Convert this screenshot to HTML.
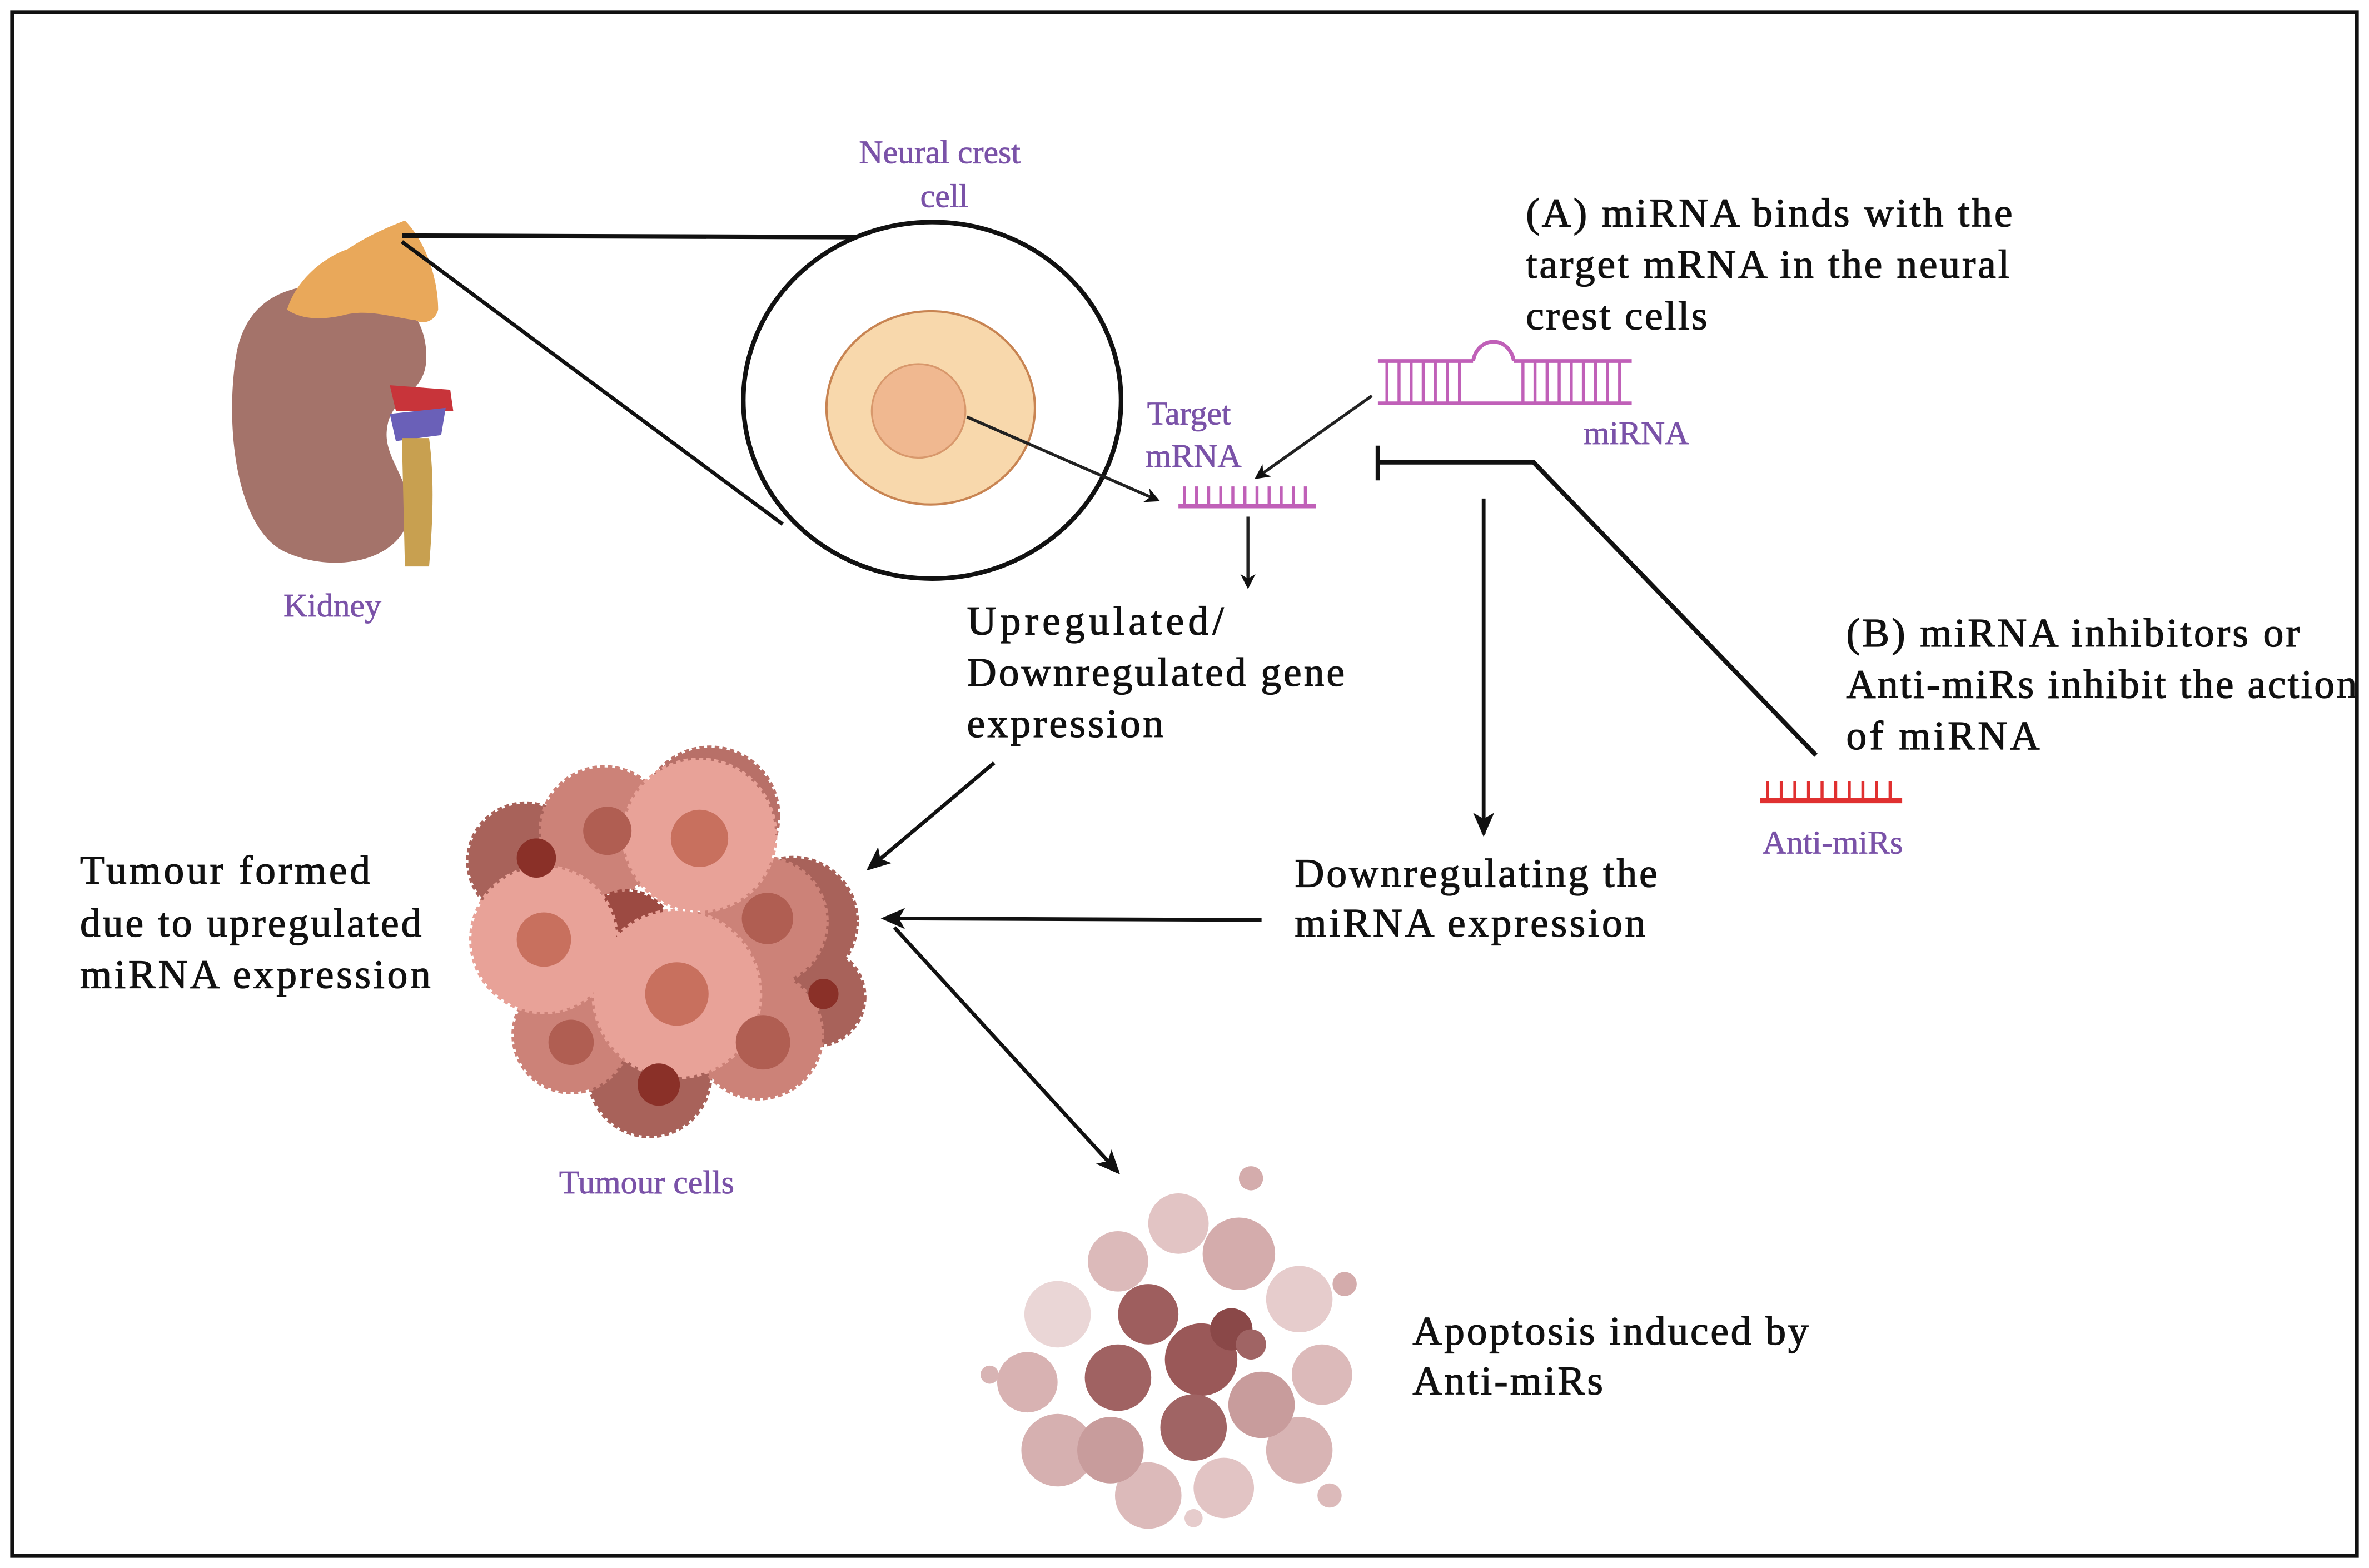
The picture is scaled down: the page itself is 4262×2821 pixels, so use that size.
<!DOCTYPE html>
<html><head><meta charset="utf-8"><style>
html,body{margin:0;padding:0;background:#fff;}
svg{display:block;}
</style></head><body>
<svg width="4262" height="2821" viewBox="0 0 1568 1038" preserveAspectRatio="none" xmlns="http://www.w3.org/2000/svg" font-family="'Liberation Serif','DejaVu Serif',serif">
<defs>
<marker id="ah" markerWidth="10" markerHeight="10" refX="8" refY="5" orient="auto" markerUnits="userSpaceOnUse"><path d="M0,0 L10,5 L0,10 L3,5 Z" fill="#111"/></marker>
<marker id="ah2" markerWidth="16" markerHeight="16" refX="14" refY="8" orient="auto" markerUnits="userSpaceOnUse"><path d="M0,1 L16,8 L0,15 L4,8 Z" fill="#111"/></marker>
</defs>
<style>
.b{font-size:27px;fill:#111;stroke:#111;stroke-width:0.5;}
.p{font-size:22px;fill:#7a52a8;stroke:#7a52a8;stroke-width:0.3;}
</style>
<rect x="0" y="0" width="1568" height="1038" fill="#fff"/>
<rect x="8" y="8" width="1552" height="1022" fill="none" stroke="#111" stroke-width="2.5"/>

<!-- Kidney -->
<path d="M200,190 C240,178 285,195 282,240 C280,262 258,262 256,285 C254,305 275,320 270,345 C262,372 220,380 188,365 C158,350 150,290 155,245 C158,210 175,195 200,190 Z" fill="#a4736a"/>
<path d="M258,255 L298,258 L300,272 L262,272 Z" fill="#c8343a"/>
<path d="M258,274 L295,270 L292,288 L262,292 Z" fill="#6a60b8"/>
<path d="M266,290 L284,290 C288,320 286,350 284,375 L268,375 Z" fill="#c8a050"/>
<path d="M190,205 C196,185 215,170 230,165 C245,155 258,150 268,146 C282,160 290,185 290,205 C288,213 280,215 275,212 C260,210 245,205 230,208 C215,212 200,212 190,205 Z" fill="#e9a85a"/>
<text class="p" x="220" y="408" text-anchor="middle">Kidney</text>

<!-- zoom lines -->
<line x1="266" y1="156" x2="575" y2="157" stroke="#111" stroke-width="3"/>
<line x1="266" y1="160" x2="518" y2="347" stroke="#111" stroke-width="2.5"/>

<!-- neural crest cell -->
<ellipse cx="617" cy="265" rx="125" ry="118" fill="#fff" stroke="#111" stroke-width="3"/>
<ellipse cx="616" cy="270" rx="69" ry="64" fill="#f8d8ac" stroke="#c88452" stroke-width="1.5"/>
<ellipse cx="608" cy="272" rx="31" ry="31" fill="#f0b890" stroke="#d8986c" stroke-width="1.2"/>
<text class="p" x="622" y="108" text-anchor="middle">Neural crest</text>
<text class="p" x="625" y="137" text-anchor="middle">cell</text>
<line x1="640" y1="276" x2="766" y2="331" stroke="#222" stroke-width="2" marker-end="url(#ah)"/>

<!-- target mRNA -->
<text class="p" x="787" y="281" text-anchor="middle">Target</text>
<text class="p" x="790" y="309" text-anchor="middle">mRNA</text>
<g stroke="#c060b8" stroke-width="2">
<line x1="780" y1="335" x2="871" y2="335" stroke-width="3"/>
<path d="M784,322V335M792,322V335M800,322V335M808,322V335M816,322V335M824,322V335M832,322V335M840,322V335M848,322V335M856,322V335M864,322V335"/>
</g>
<line x1="826" y1="342" x2="826" y2="388" stroke="#222" stroke-width="2" marker-end="url(#ah)"/>
<text class="b" x="640" y="420" textLength="170">Upregulated/</text>
<text class="b" x="640" y="454" textLength="250">Downregulated gene</text>
<text class="b" x="640" y="488" textLength="130">expression</text>

<!-- miRNA -->
<g stroke="#c060b8" stroke-width="2.5" fill="none">
<line x1="912" y1="239" x2="975" y2="239"/>
<line x1="1002" y1="239" x2="1080" y2="239"/>
<path d="M975,239 C978,222 999,222 1002,239"/>
<line x1="912" y1="267" x2="1080" y2="267"/>
<path d="M918,239V267M926,239V267M934,239V267M942,239V267M950,239V267M958,239V267M966,239V267M1008,239V267M1016,239V267M1024,239V267M1032,239V267M1040,239V267M1048,239V267M1056,239V267M1064,239V267M1072,239V267" stroke-width="2"/>
</g>
<text class="p" x="1083" y="294" text-anchor="middle">miRNA</text>
<line x1="908" y1="262" x2="832" y2="316" stroke="#222" stroke-width="2" marker-end="url(#ah)"/>

<text class="b" x="1010" y="150" textLength="322">(A) miRNA binds with the</text>
<text class="b" x="1010" y="184" textLength="320">target mRNA in the neural</text>
<text class="b" x="1010" y="218" textLength="120">crest cells</text>

<!-- inhibition -->
<polyline points="912,306 1015,306 1202,500" fill="none" stroke="#111" stroke-width="3"/>
<line x1="912" y1="295" x2="912" y2="318" stroke="#111" stroke-width="3"/>
<text class="b" x="1222" y="428" textLength="300">(B) miRNA inhibitors or</text>
<text class="b" x="1222" y="462" textLength="338">Anti-miRs inhibit the action</text>
<text class="b" x="1222" y="496" textLength="128">of miRNA</text>

<!-- anti-miRs -->
<g stroke="#e03030" stroke-width="2">
<line x1="1165" y1="530" x2="1259" y2="530" stroke-width="3.5"/>
<path d="M1170,517V530M1179,517V530M1188,517V530M1197,517V530M1206,517V530M1215,517V530M1224,517V530M1233,517V530M1242,517V530M1251,517V530"/>
</g>
<text class="p" x="1213" y="565" text-anchor="middle">Anti-miRs</text>

<line x1="982" y1="330" x2="982" y2="552" stroke="#111" stroke-width="2.5" marker-end="url(#ah2)"/>
<text class="b" x="857" y="587" textLength="240">Downregulating the</text>
<text class="b" x="857" y="620" textLength="232">miRNA expression</text>
<line x1="835" y1="609" x2="585" y2="608" stroke="#111" stroke-width="2.5" marker-end="url(#ah2)"/>
<line x1="658" y1="505" x2="575" y2="575" stroke="#111" stroke-width="2.5" marker-end="url(#ah2)"/>
<line x1="592" y1="614" x2="740" y2="776" stroke="#111" stroke-width="2.5" marker-end="url(#ah2)"/>

<!-- tumour cluster -->
<g stroke-dasharray="3 2" stroke-width="3">
<circle cx="348" cy="570" r="38" fill="#a8625a" stroke="#a8625a"/>
<circle cx="525" cy="610" r="42" fill="#a8625a" stroke="#a8625a"/>
<circle cx="540" cy="660" r="32" fill="#a8625a" stroke="#a8625a"/>
<circle cx="430" cy="712" r="40" fill="#a8625a" stroke="#a8625a"/>
<circle cx="470" cy="540" r="45" fill="#b87068" stroke="#b87068"/>
<circle cx="400" cy="550" r="42" fill="#cc8278" stroke="#cc8278"/>
<circle cx="505" cy="610" r="42" fill="#cc8278" stroke="#cc8278"/>
<circle cx="378" cy="685" r="38" fill="#cc8278" stroke="#cc8278"/>
<circle cx="502" cy="685" r="42" fill="#cc8278" stroke="#cc8278"/>
<circle cx="415" cy="620" r="30" fill="#9c4a42" stroke="#9c4a42"/>
<circle cx="463" cy="553" r="50" fill="#e8a298" stroke="#e8a298"/>
<circle cx="360" cy="622" r="48" fill="#e8a298" stroke="#e8a298"/>
<circle cx="448" cy="658" r="55" fill="#e8a298" stroke="#e8a298"/>
</g>
<circle cx="355" cy="568" r="13" fill="#8a3028"/>
<circle cx="402" cy="550" r="16" fill="#b05e52"/>
<circle cx="463" cy="555" r="19" fill="#c8705e"/>
<circle cx="360" cy="622" r="18" fill="#c8705e"/>
<circle cx="448" cy="658" r="21" fill="#c8705e"/>
<circle cx="508" cy="608" r="17" fill="#b05e52"/>
<circle cx="505" cy="690" r="18" fill="#b05e52"/>
<circle cx="378" cy="690" r="15" fill="#b05e52"/>
<circle cx="436" cy="718" r="14" fill="#8a3028"/>
<circle cx="545" cy="658" r="10" fill="#8a3028"/>
<text class="p" x="428" y="790" text-anchor="middle">Tumour cells</text>
<text class="b" x="53" y="585" textLength="192">Tumour formed</text>
<text class="b" x="53" y="620" textLength="226">due to upregulated</text>
<text class="b" x="53" y="654" textLength="232">miRNA expression</text>

<!-- apoptosis -->
<g>
<circle cx="700" cy="870" r="22" fill="#ead6d6"/>
<circle cx="860" cy="860" r="22" fill="#e6cccc"/>
<circle cx="700" cy="960" r="24" fill="#d6b0b0"/>
<circle cx="860" cy="960" r="22" fill="#d8b4b4"/>
<circle cx="780" cy="810" r="20" fill="#e2c4c4"/>
<circle cx="820" cy="830" r="24" fill="#d4acac"/>
<circle cx="740" cy="835" r="20" fill="#dcbaba"/>
<circle cx="680" cy="915" r="20" fill="#d8b2b2"/>
<circle cx="875" cy="910" r="20" fill="#dcbaba"/>
<circle cx="760" cy="990" r="22" fill="#dcbaba"/>
<circle cx="810" cy="985" r="20" fill="#e2c4c4"/>
<circle cx="735" cy="960" r="22" fill="#c89c9c"/>
<circle cx="835" cy="930" r="22" fill="#c89c9c"/>
<circle cx="760" cy="870" r="20" fill="#9e5e5e"/>
<circle cx="740" cy="912" r="22" fill="#a06262"/>
<circle cx="795" cy="900" r="24" fill="#9a5858"/>
<circle cx="815" cy="880" r="14" fill="#8a4848"/>
<circle cx="790" cy="945" r="22" fill="#a06464"/>
<circle cx="828" cy="890" r="10" fill="#a06464"/>
<circle cx="655" cy="910" r="6" fill="#d8b4b4"/>
<circle cx="828" cy="780" r="8" fill="#d4acac"/>
<circle cx="890" cy="850" r="8" fill="#d4acac"/>
<circle cx="880" cy="990" r="8" fill="#dcbaba"/>
<circle cx="790" cy="1005" r="6" fill="#e6cccc"/>
</g>
<text class="b" x="935" y="890" textLength="262">Apoptosis induced by</text>
<text class="b" x="935" y="923" textLength="126">Anti-miRs</text>
</svg>
</body></html>
